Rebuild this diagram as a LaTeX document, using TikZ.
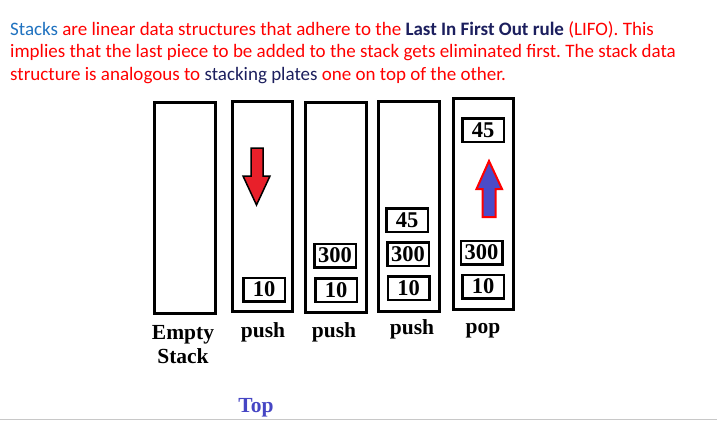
\documentclass[tikz,border=0pt]{standalone}
\usepackage{fontspec}
\setmainfont{Liberation Serif}
\newfontfamily\calib{Carlito}
\frenchspacing
\definecolor{txtred}{HTML}{FF0000}
\definecolor{txtblue}{HTML}{1F72C0}
\definecolor{txtnavy}{HTML}{1C1F5E}
\definecolor{topblue}{HTML}{4646C4}
\definecolor{arrred}{HTML}{E8202A}
\definecolor{arrblue}{HTML}{4B4BC8}
\definecolor{rulegray}{HTML}{C8C8C8}
\begin{document}
\begin{tikzpicture}[x=1pt,y=-1pt,
  col/.style={draw=black,line width=3pt,fill=white,inner sep=0pt},
  cell/.style={draw=black,line width=2.5pt,minimum width=41.5pt,minimum height=23.5pt,inner sep=0pt,
    font=\fontsize{22.5}{24}\selectfont\bfseries},
  lbl/.style={anchor=base,inner sep=0pt,font=\fontsize{21.5}{24}\selectfont\bfseries},
  hdr/.style={anchor=base west,inner sep=0pt,font=\calib\fontsize{19}{22.5}\selectfont\frenchspacing,text=txtred}]
\useasboundingbox (0,0) rectangle (717,421);
\fill[white] (0,0) rectangle (717,421);
\draw[rulegray,line width=1.2pt] (0,419.6) -- (717,419.6);

% header text
\node[hdr] (h1) at (10,35) {\textcolor{txtblue}{Stacks} are linear data structures that adhere to the \textcolor{txtnavy}{\bfseries Last In First Out rule} (LIFO). This};
\node[hdr] (h2) at (10,57.5) {implies that the last piece to be added to the stack gets eliminated first. The stack data};
\node[hdr] (h3) at (10,80) {structure is analogous to \textcolor{txtnavy}{stacking plates} one on top of the other.};

% stacks
\node[col,minimum width=61pt,minimum height=211pt] (c1) at (185,208) {};
\node[col,minimum width=60pt,minimum height=210pt] (c2) at (262.5,206.5) {};
\node[col,minimum width=61pt,minimum height=210pt] (c3) at (336,207.5) {};
\node[col,minimum width=61pt,minimum height=210pt] (c4) at (409,206.5) {};
\node[col,minimum width=60pt,minimum height=211pt] (c5) at (483.5,204) {};

% cells
\node[cell] (b2a) at (264,289.5) {10};
\node[cell] (b3a) at (336,290) {10};
\node[cell] (b3b) at (335,255.5) {300};
\node[cell] (b4a) at (408.5,288) {10};
\node[cell] (b4b) at (408,254) {300};
\node[cell] (b4c) at (407,220) {45};
\node[cell] (b5a) at (483,286.5) {10};
\node[cell] (b5b) at (481.5,252.5) {300};
\node[cell] (b5c) at (483,130) {45};

% push arrow (down)
\draw[black,line width=1.5pt,fill=arrred,line join=miter]
  (251,148) -- (263,148) -- (263,176) -- (270,176) -- (256.5,205) -- (243,176) -- (251,176) -- cycle;
% pop arrow (up)
\draw[txtred,line width=2pt,fill=arrblue,line join=miter]
  (482.5,217) -- (495.5,217) -- (495.5,189) -- (502,189) -- (489,161) -- (476.5,189) -- (482.5,189) -- cycle;

% labels
\node[lbl] (l1a) at (183,339) {Empty};
\node[lbl] (l1b) at (183,363) {Stack};
\node[lbl] (l2) at (263,337) {push};
\node[lbl] (l3) at (334,337) {push};
\node[lbl] (l4) at (412,334) {push};
\node[lbl] (l5) at (483,333) {pop};
\node[lbl,text=topblue] (top) at (256,412) {Top};
\end{tikzpicture}
\end{document}
